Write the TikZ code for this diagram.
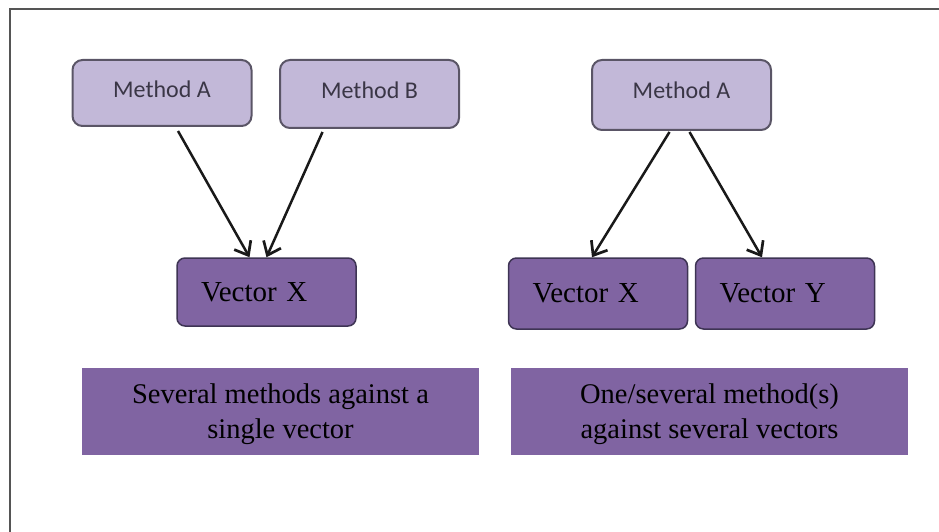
\documentclass[tikz,border=0pt]{standalone}
\usepackage{fontspec}
\setmainfont{Liberation Serif}
\newfontfamily\methodfont{Carlito}
\usetikzlibrary{arrows.meta}
\definecolor{methodfill}{HTML}{C2B8D8}
\definecolor{methodedge}{HTML}{5A5566}
\definecolor{methodtext}{HTML}{3A3646}
\definecolor{vecfill}{HTML}{8064A2}
\definecolor{vecedge}{HTML}{3E3454}
\definecolor{framegray}{HTML}{555555}
\tikzset{
  method/.style={draw=methodedge, line width=2pt, fill=methodfill, rounded corners=10pt,
    minimum width=179pt, minimum height=#1, inner sep=0pt,
    font=\methodfont\fontsize{24}{28}\selectfont, text=methodtext},
  vecbox/.style={draw=vecedge, line width=1.5pt, fill=vecfill, rounded corners=8pt,
    minimum width=179pt, minimum height=#1, inner xsep=24pt, inner ysep=0pt,
    text width=131pt, align=left, font=\fontsize{29}{33}\selectfont, text=black},
  caption/.style={fill=vecfill, minimum width=397pt, minimum height=87pt, inner sep=0pt,
    align=center, font=\fontsize{28.5}{35}\selectfont, text=black},
  arr/.style={draw=black!90, line width=2.5pt,
    -{Straight Barb[length=12pt,width=19pt,line width=2.7pt]}}
}
\begin{document}
\begin{tikzpicture}[x=1pt,y=-1pt]
  \useasboundingbox (0,0) rectangle (939,532);
  % outer frame: only the top and left edges are visible
  \draw[framegray, line width=1.5pt] (939,9) -- (10,9) -- (10,532);

  % left panel
  \node[method=66pt, text depth=7pt] (lma) at (162,93) {Method A};
  \node[method=68pt, text depth=7pt] (lmb) at (369.5,94) {Method B};
  \node[vecbox=68pt] (lvx) at (266.5,292) {Vector X};
  \node[caption, text depth=-2pt] (lcap) at (280.5,411.5) {Several methods against a\\single vector};

  % right panel
  \node[method=70pt, text depth=9pt] (rma) at (681.5,95) {Method A};
  \node[vecbox=71pt] (rvx) at (598,293.5) {Vector X};
  \node[vecbox=71pt] (rvy) at (785,293.5) {Vector Y};
  \node[caption, text depth=-2pt] (rcap) at (709.5,411.5) {One/several method(s)\\against several vectors};

  % connectors
  \draw[arr] ([xshift=16pt,yshift=-4pt]lma.south) -- ([xshift=-17pt]lvx.north);
  \draw[arr] ([xshift=-47pt,yshift=-3pt]lmb.south) -- ([xshift=0pt]lvx.north);
  \draw[arr] ([xshift=-12pt,yshift=-1pt]rma.south) -- ([xshift=-6pt]rvx.north);
  \draw[arr] ([xshift=8pt,yshift=-1pt]rma.south) -- ([xshift=-23pt]rvy.north);
\end{tikzpicture}
\end{document}
